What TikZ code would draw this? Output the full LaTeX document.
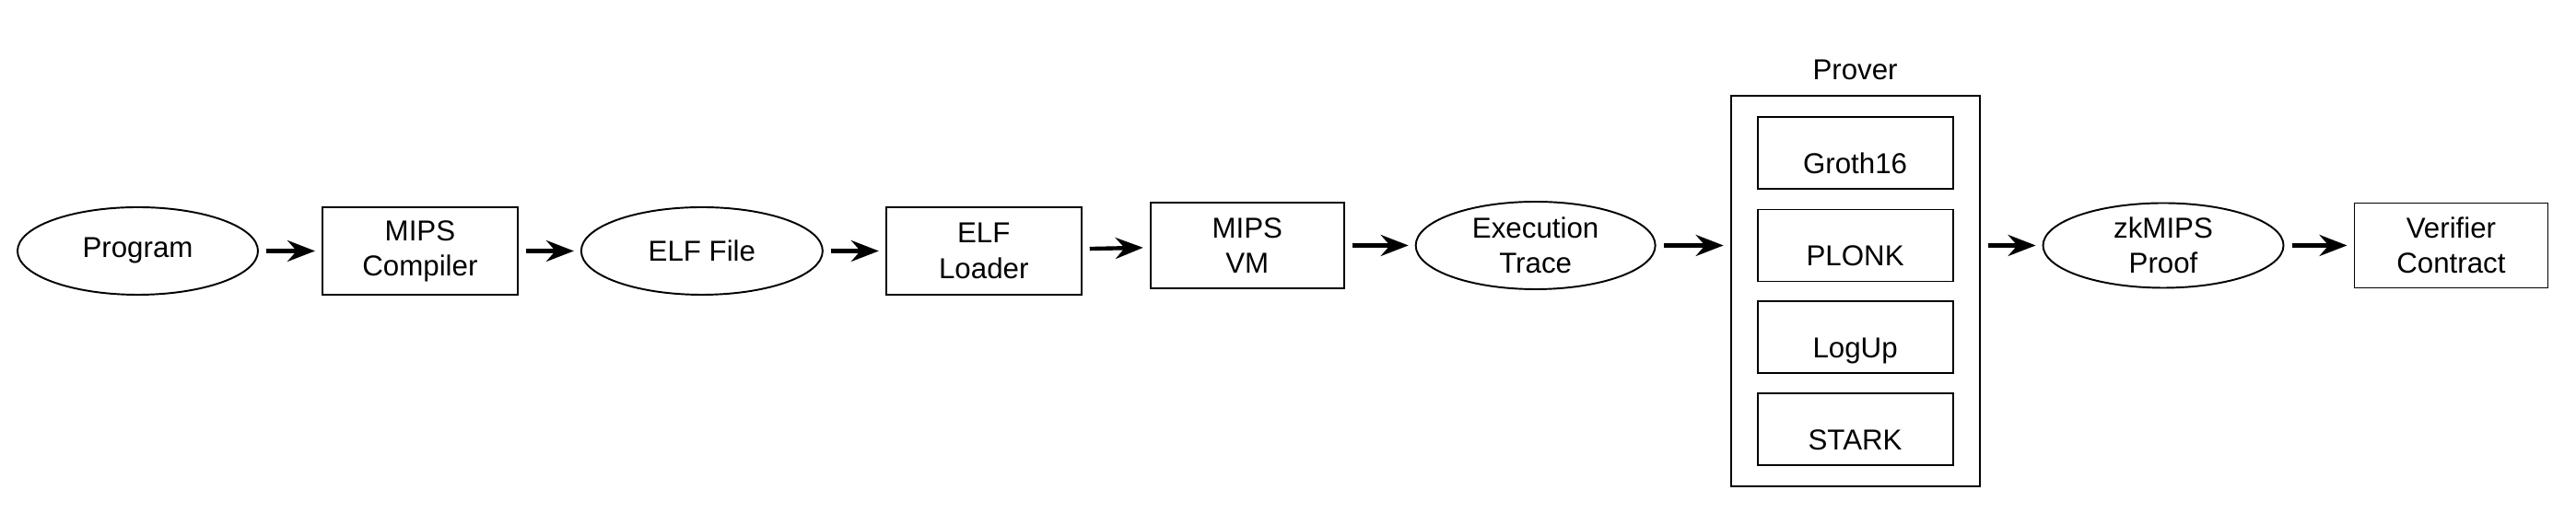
\documentclass[tikz,border=0pt]{standalone}
\usepackage{fontspec}
\setmainfont{Liberation Sans}
\usepackage{tikz}
\usetikzlibrary{arrows.meta,positioning,shapes.geometric,fit}

\begin{document}
\begin{tikzpicture}[
  font=\fontsize{8.9}{10.9}\selectfont,
  blob/.style={draw,line width=0.55pt,ellipse,inner sep=0pt,minimum width=2.61cm,
    minimum height=0.95cm,align=center},
  stage/.style={draw,line width=0.55pt,inner sep=0pt,minimum width=2.12cm,
    minimum height=0.95cm,align=center},
  algo/.style={draw,line width=0.55pt,minimum width=2.12cm,minimum height=0.78cm,
    text height=0.45cm,text depth=0pt},
  flow/.style={-{Stealth[length=3mm,width=2.3mm,inset=1mm]},line width=1.25pt,
    shorten <=0.8mm,shorten >=0.7mm}
]
\useasboundingbox (0,0) rectangle (27.96,-5.70);
\node[blob] (prog) at (1.495,-2.725) {Program};
\node[stage] (comp) [right=0.68cm of prog] {MIPS\\Compiler};
\node[blob,minimum width=2.62cm] (elf) [right=0.67cm of comp] {ELF File};
\node[stage] (loader) [right=0.67cm of elf] {ELF\\Loader};
\node[stage,minimum width=2.10cm,minimum height=0.93cm] (vm)
  [right=0.73cm of loader,yshift=0.06cm] {MIPS\\VM};
\node[blob,minimum width=2.60cm] (trace) [right=0.76cm of vm] {Execution\\Trace};
% prover backends
\node[algo] (plonk) [right=1.09cm of trace] {PLONK};
\node[algo] (groth) [above=0.21cm of plonk] {Groth16};
\node[algo] (logup) [below=0.2cm of plonk] {LogUp};
\node[algo] (stark) [below=0.2cm of logup] {STARK};
\node[draw,line width=0.55pt,inner xsep=0.28cm,inner ysep=0.22cm,fit=(groth)(stark)] (prover) {};
\node (provlbl) [above=1pt of prover] {Prover};
\node[blob,minimum height=0.92cm] (proof) [right=0.96cm of plonk] {zkMIPS\\Proof};
\node[stage,minimum width=2.10cm,minimum height=0.92cm] (verif)
  [right=0.75cm of proof] {Verifier\\Contract};
% flow
\draw[flow] (prog) -- (comp);
\draw[flow] (comp) -- (elf);
\draw[flow] (elf) -- (loader);
\draw[flow] (loader) -- (vm);
\draw[flow] (vm) -- (trace);
\draw[flow] (trace) -- (trace -| prover.west);
\draw[flow] (prover.east |- proof) -- (proof);
\draw[flow] (proof) -- (verif);
\end{tikzpicture}
\end{document}
